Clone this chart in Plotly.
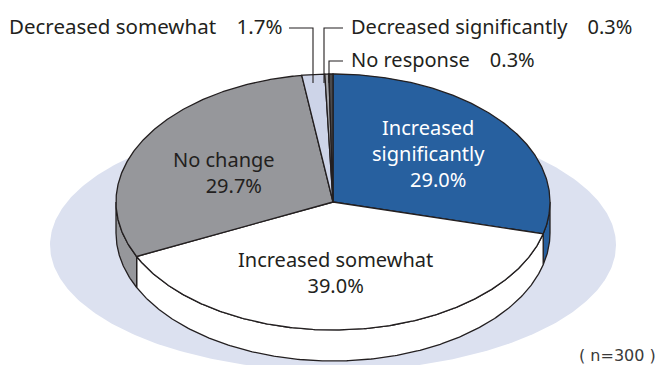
import numpy as np
import plotly.graph_objects as go

# Survey responses, clockwise from twelve o'clock
categories = ["Increased significantly", "Increased somewhat", "No change",
              "Decreased somewhat", "Decreased significantly", "No response"]
shares = [29.0, 39.0, 29.7, 1.7, 0.3, 0.3]
sample_note = "( n=300 )"

slice_colors = ["#27609f", "#ffffff", "#96979b", "#cdd4e8", "#a8a9ad", "#4a4a4c"]
INK = "#231f20"
FONT = "Noto Sans"

# Disc geometry in axis units
CX, CY, RX, RY, DEPTH = 333.0, 202.0, 217.0, 128.0, 31.0
SHADOW = (333.0, 245.0, 283.0, 126.0)


def rim(a0, a1, dy=0.0, n=None):
    n = n or max(3, int(abs(a1 - a0) * 2) + 2)
    t = np.radians(np.linspace(a0, a1, n))
    return CX + RX * np.sin(t), CY - RY * np.cos(t) + dy


fig = go.Figure()


def poly(x, y, fill, line=True):
    fig.add_trace(go.Scatter(
        x=list(x), y=list(y), mode="lines", fill="toself", fillcolor=fill,
        line=dict(color=INK if line else fill, width=1.3 if line else 0),
        hoverinfo="skip", showlegend=False))


def path(x, y, width=1.1):
    fig.add_trace(go.Scatter(x=list(x), y=list(y), mode="lines",
                             line=dict(color=INK, width=width),
                             hoverinfo="skip", showlegend=False))


# Pale ellipse the pie sits on
t = np.linspace(0, 2 * np.pi, 400)
poly(SHADOW[0] + SHADOW[2] * np.cos(t), SHADOW[1] + SHADOW[3] * np.sin(t), "#dce1f0", line=False)

edges = np.concatenate([[0], np.cumsum(shares)]) / sum(shares) * 360

# Visible wall of the disc: only the front half, 90 to 270 degrees
for i, color in enumerate(slice_colors):
    a0, a1 = max(edges[i], 90), min(edges[i + 1], 270)
    if a1 <= a0:
        continue
    xt, yt = rim(a0, a1)
    xb, yb = rim(a1, a0, DEPTH)
    poly(np.r_[xt, xb, xt[0]], np.r_[yt, yb, yt[0]], color)

# Top face
for i, color in enumerate(slice_colors):
    xa, ya = rim(edges[i], edges[i + 1])
    poly(np.r_[CX, xa, CX], np.r_[CY, ya, CY], color)

# Leader lines for the thin slices
path([289, 313, 313], [28, 28, 83])
path([343, 324, 324], [28, 28, 83])
path([343, 329, 329], [61, 61, 83])


def note(x, y, text, anchor="center", **kw):
    return dict(x=x, y=y, text=text, xanchor=anchor, yanchor="middle", showarrow=False, **kw)


# The leading em space nudges a percentage to the right of its centred name
annotations = [
    note(428, 153, f"Increased<br>significantly<br>\u2003{shares[0]:.1f}%",
         font=dict(size=20, color="#ffffff", family=FONT)),
    note(335, 272, f"{categories[1]}<br>{shares[1]:.1f}%"),
    note(224, 172, f"{categories[2]}<br>\u2003{shares[2]:.1f}%"),
    note(285, 26, f"{categories[3]}\u2003{shares[3]:.1f}%", "right",
         font=dict(size=20.5, color=INK, family=FONT)),
    note(349, 26, f"{categories[4]}\u2003{shares[4]:.1f}%", "left"),
    note(349, 59, f"{categories[5]}\u2003{shares[5]:.1f}%", "left"),
    note(658, 355, sample_note, "right",
         font=dict(size=16, color="#3a3a3a", family="DejaVu Sans")),
]

fig.update_layout(
    width=661, height=365, margin=dict(l=0, r=0, t=0, b=0),
    paper_bgcolor="white", plot_bgcolor="white",
    xaxis=dict(range=[0, 661], visible=False, fixedrange=True),
    yaxis=dict(range=[365, 0], visible=False, fixedrange=True),
    font=dict(family=FONT, size=20, color=INK),
    annotations=annotations, showlegend=False,
)
fig.write_html("out.html", config={"displayModeBar": False})
